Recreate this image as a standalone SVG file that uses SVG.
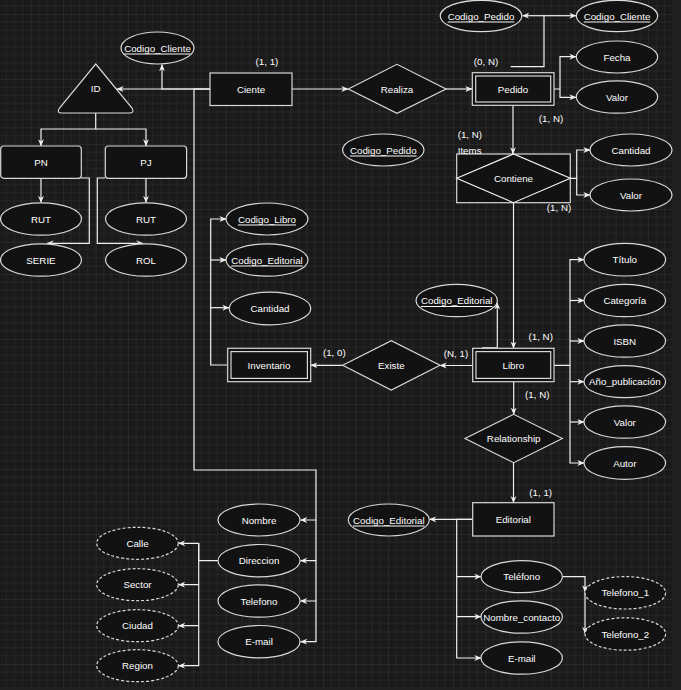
<svg xmlns="http://www.w3.org/2000/svg" width="681" height="690" viewBox="0 0 681 690">
<defs>
<pattern id="grid" patternUnits="userSpaceOnUse" x="30.6" y="14" width="32.5" height="32.5">
<path d="M8.125 0V32.5M16.25 0V32.5M24.375 0V32.5M0 8.125H32.5M0 16.25H32.5M0 24.375H32.5" stroke="#262626" stroke-width="1" fill="none"/>
<path d="M0 0V32.5M0 0H32.5" stroke="#363636" stroke-width="1" fill="none"/>
</pattern>
<marker id="a" viewBox="0 0 10 10" refX="9.5" refY="5" markerWidth="7" markerHeight="7" markerUnits="userSpaceOnUse" orient="auto-start-reverse">
<path d="M0,0.8 L10,5 L0,9.2 L3,5 z" fill="#f0f0f0"/>
</marker>
<style>
.e{fill:none;stroke:#f0f0f0;stroke-width:1.2;marker-end:url(#a)}
.n{fill:none;stroke:#f0f0f0;stroke-width:1.2}
.s{fill:#121212;stroke:#d8d8d8;stroke-width:1.2}
.d{fill:#121212;stroke:#d8d8d8;stroke-width:1.2;stroke-dasharray:3 2}
text{font-family:"Liberation Sans",Arial,sans-serif;font-size:9.75px;fill:#ffffff;text-anchor:middle;dominant-baseline:central}
.u{text-decoration:underline}
.l{text-anchor:start}
</style>
</defs>
<rect width="681" height="690" fill="#1a1a1a"/>
<rect width="672" height="687" fill="url(#grid)"/>
<rect x="672" y="0" width="9" height="690" fill="#202020"/>
<rect x="0" y="687" width="681" height="3" fill="#202020"/>

<g id="connectors">
<path class="e" d="M210 89H117"/>
<path class="e" d="M210 89H162V64.5"/>
<path class="e" d="M210 89H194V470H316V520H300.5"/>
<path class="e" d="M316 520V560.7H300.5"/>
<path class="e" d="M316 560.7V601H300.5"/>
<path class="e" d="M316 601V641.7H300.5"/>
<path class="e" d="M95.7 113V129H41V146"/>
<path class="e" d="M95.7 129H146V146"/>
<path class="e" d="M41 178V202.5"/>
<path class="e" d="M146 178V202.5"/>
<path class="e" d="M81 178H89.3V243.3H47"/>
<path class="e" d="M105 178H97.3V243.3H143"/>
<path class="e" d="M292 89H348"/>
<path class="e" d="M446 89H472"/>
<path class="n" d="M510.7 66.7H544V15.7"/>
<path class="e" d="M544 15.7H522.5"/>
<path class="e" d="M544 15.7H576"/>
<path class="e" d="M554 89H560V56.7H576"/>
<path class="e" d="M560 89V97.3H576"/>
<path class="e" d="M513 105.3V154"/>
<path class="e" d="M570.3 178.3H576.7V150H590"/>
<path class="e" d="M576.7 178.3V195H590"/>
<path class="e" d="M513.5 202.7V348.3"/>
<path class="e" d="M482 347.8H497.3V302.8"/>
<path class="e" d="M472.7 365.5H440"/>
<path class="e" d="M342.7 365.3H310.7"/>
<path class="e" d="M227.7 365H210.7V219H226"/>
<path class="e" d="M210.7 260H226"/>
<path class="e" d="M210.7 307.7H229"/>
<path class="e" d="M554 365.3H570V259.7H584"/>
<path class="e" d="M570 300.5H584"/>
<path class="e" d="M570 341H584"/>
<path class="e" d="M570 381.7H584"/>
<path class="e" d="M570 422H584"/>
<path class="e" d="M570 365.3V463H584"/>
<path class="e" d="M513.7 381.7V414.3"/>
<path class="e" d="M513.5 462.7V502.7"/>
<path class="e" d="M472.7 519.3H429.5"/>
<path class="e" d="M472.7 519.3H456.7V576.7H481"/>
<path class="e" d="M456.7 576.7V616.7H481"/>
<path class="e" d="M456.7 616.7V658H481"/>
<path class="e" d="M562.3 576.7H585V592"/>
<path class="e" d="M585 592V633.5"/>
<path class="e" d="M218 560.7H198.7V543.3H178.5"/>
<path class="e" d="M198.7 543.3V584.7H178.5"/>
<path class="e" d="M198.7 584.7V625.7H178.5"/>
<path class="e" d="M198.7 625.7V665.7H178.5"/>
</g>

<g id="codigo_cliente_1"><ellipse class="s" cx="157.5" cy="48" rx="36.5" ry="16"/><text class="u" x="157.5" y="48">Codigo_Cliente</text></g>
<g id="id"><path class="s" d="M95.7 64 L132 108 Q135 113 129 113 L62 113 Q56 113 59.5 108 Z" stroke-width="1.6"/><text x="95.7" y="88.5">ID</text></g>
<g id="ciente"><rect class="s" x="210" y="73" width="82" height="32.5"/><text x="251" y="89.3">Ciente</text></g>
<g id="pn"><rect class="s" x="0.7" y="146" width="80.6" height="32.3" rx="3"/><text x="41" y="162">PN</text></g>
<g id="pj"><rect class="s" x="105.3" y="146" width="81.3" height="32.3" rx="3"/><text x="146" y="162">PJ</text></g>
<g id="rut_pn"><ellipse class="s" cx="41" cy="219" rx="40.5" ry="16.2"/><text x="41" y="219">RUT</text></g>
<g id="rut_pj"><ellipse class="s" cx="146" cy="219" rx="40.5" ry="16.2"/><text x="146" y="219">RUT</text></g>
<g id="serie"><ellipse class="s" cx="41" cy="260" rx="40.5" ry="16.2"/><text x="41" y="260">SERIE</text></g>
<g id="rol"><ellipse class="s" cx="146" cy="260" rx="40.5" ry="16.2"/><text x="146" y="260">ROL</text></g>

<g id="realiza"><path class="s" d="M348.3 89 L397 64.3 L446 89 L397 113.3 Z"/><text x="397" y="89">Realiza</text></g>
<g id="pedido"><rect class="s" x="472.3" y="72.7" width="81.7" height="32.6"/><rect class="s" x="475.7" y="76" width="75" height="26"/><text x="513" y="89">Pedido</text></g>
<g id="codigo_pedido_1"><ellipse class="s" cx="481" cy="16" rx="40.8" ry="15.7"/><text class="u" x="481" y="16">Codigo_Pedido</text></g>
<g id="codigo_cliente_2"><ellipse class="s" cx="617" cy="16" rx="40.7" ry="15.7"/><text class="u" x="617" y="16">Codigo_Cliente</text></g>
<g id="fecha"><ellipse class="s" cx="617" cy="57" rx="40.7" ry="16"/><text x="617" y="57">Fecha</text></g>
<g id="valor_pedido"><ellipse class="s" cx="617" cy="97" rx="40.7" ry="16.2"/><text x="617" y="97">Valor</text></g>
<g id="codigo_pedido_2"><ellipse class="s" cx="383.3" cy="150" rx="40.7" ry="16"/><text class="u" x="383.3" y="150">Codigo_Pedido</text></g>
<g id="contiene"><rect class="s" x="456.7" y="154" width="113.6" height="48.7"/><path class="n" d="M456.7 178.3 L513.5 154 L570.3 178.3 L513.5 202.7 Z" stroke="#d8d8d8"/><text x="513.5" y="178.3">Contiene</text></g>
<g id="cantidad_contiene"><ellipse class="s" cx="631" cy="150" rx="41" ry="16"/><text x="631" y="150">Cantidad</text></g>
<g id="valor_contiene"><ellipse class="s" cx="631" cy="195" rx="41" ry="16"/><text x="631" y="195">Valor</text></g>

<g id="codigo_libro"><ellipse class="s" cx="267" cy="219" rx="41" ry="16"/><text class="u" x="267" y="219">Codigo_Libro</text></g>
<g id="codigo_editorial_inv"><ellipse class="s" cx="267" cy="260" rx="41" ry="16.2"/><text class="u" x="267" y="260">Codigo_Editorial</text></g>
<g id="cantidad_inv"><ellipse class="s" cx="270" cy="308.5" rx="40.8" ry="16.3"/><text x="270" y="308.5">Cantidad</text></g>
<g id="inventario"><rect class="s" x="227.7" y="348.3" width="83" height="33.4"/><rect class="s" x="231" y="351.6" width="76.4" height="26.8"/><text x="269" y="365">Inventario</text></g>
<g id="existe"><path class="s" d="M342.7 365.3 L391.3 340.7 L440 365.3 L391.3 390 Z"/><text x="391.3" y="365.3">Existe</text></g>
<g id="codigo_editorial_libro"><ellipse class="s" cx="456.7" cy="300.5" rx="40.7" ry="16.2"/><text class="u" x="456.7" y="300.5">Codigo_Editorial</text></g>
<g id="libro"><rect class="s" x="472.7" y="348.3" width="81.3" height="33.4"/><rect class="s" x="476" y="351.6" width="74.7" height="26.8"/><text x="513.3" y="365.3">Libro</text></g>
<g id="titulo"><ellipse class="s" cx="624.8" cy="259.7" rx="40.8" ry="16.3"/><text x="624.8" y="259.7">Título</text></g>
<g id="categoria"><ellipse class="s" cx="624.8" cy="300.5" rx="40.8" ry="16.2"/><text x="624.8" y="300.5">Categoría</text></g>
<g id="isbn"><ellipse class="s" cx="624.8" cy="341" rx="40.8" ry="16.2"/><text x="624.8" y="341">ISBN</text></g>
<g id="anio_publicacion"><ellipse class="s" cx="624.8" cy="381.7" rx="40.8" ry="16"/><text x="624.8" y="381.7">Año_publicación</text></g>
<g id="valor_libro"><ellipse class="s" cx="624.8" cy="422" rx="40.8" ry="16.2"/><text x="624.8" y="422">Valor</text></g>
<g id="autor"><ellipse class="s" cx="624.8" cy="463" rx="40.8" ry="16.3"/><text x="624.8" y="463">Autor</text></g>
<g id="relationship"><path class="s" d="M465 438.5 L513.7 414.3 L562.3 438.5 L513.7 462.7 Z"/><text x="513.7" y="438.5">Relationship</text></g>

<g id="editorial"><rect class="s" x="472.7" y="502.7" width="81.3" height="33.3"/><text x="513.3" y="519.3">Editorial</text></g>
<g id="codigo_editorial_ed"><ellipse class="s" cx="388.8" cy="520" rx="40.5" ry="16"/><text class="u" x="388.8" y="520">Codigo_Editorial</text></g>
<g id="telefono_ed"><ellipse class="s" cx="521.7" cy="576.7" rx="40.7" ry="16"/><text x="521.7" y="576.7">Teléfono</text></g>
<g id="nombre_contacto"><ellipse class="s" cx="521.7" cy="617" rx="40.7" ry="16.2"/><text x="521.7" y="617">Nombre_contacto</text></g>
<g id="email_ed"><ellipse class="s" cx="521.7" cy="658" rx="40.7" ry="16.2"/><text x="521.7" y="658">E-mail</text></g>
<g id="telefono_1"><ellipse class="d" cx="625.3" cy="592.8" rx="40.3" ry="16.2"/><text x="625.3" y="592.8">Telefono_1</text></g>
<g id="telefono_2"><ellipse class="d" cx="625.3" cy="634" rx="40.3" ry="16.2"/><text x="625.3" y="634">Telefono_2</text></g>

<g id="nombre"><ellipse class="s" cx="259" cy="520" rx="41" ry="16"/><text x="259" y="520">Nombre</text></g>
<g id="direccion"><ellipse class="s" cx="259" cy="560.7" rx="41" ry="16.2"/><text x="259" y="560.7">Direccion</text></g>
<g id="telefono"><ellipse class="s" cx="259" cy="601" rx="41" ry="16.2"/><text x="259" y="601">Telefono</text></g>
<g id="email"><ellipse class="s" cx="259" cy="641.7" rx="41" ry="16.2"/><text x="259" y="641.7">E-mail</text></g>
<g id="calle"><ellipse class="d" cx="137.5" cy="543.3" rx="40.8" ry="16"/><text x="137.5" y="543.3">Calle</text></g>
<g id="sector"><ellipse class="d" cx="137.5" cy="584.7" rx="40.8" ry="16"/><text x="137.5" y="584.7">Sector</text></g>
<g id="ciudad"><ellipse class="d" cx="137.5" cy="625.7" rx="40.8" ry="16"/><text x="137.5" y="625.7">Ciudad</text></g>
<g id="region"><ellipse class="d" cx="137.5" cy="665.7" rx="40.8" ry="16"/><text x="137.5" y="665.7">Region</text></g>

<g id="labels">
<text x="267" y="61">(1, 1)</text>
<text x="486" y="61">(0, N)</text>
<text x="551" y="118">(1, N)</text>
<text class="l" x="457.7" y="134">(1, N)</text>
<text class="l" x="457.7" y="150">Items</text>
<text x="559" y="207">(1, N)</text>
<text x="540.7" y="336.7">(1, N)</text>
<text x="537.3" y="394">(1, N)</text>
<text x="456" y="353.3">(N, 1)</text>
<text x="334.3" y="352.7">(1, 0)</text>
<text x="540.7" y="492">(1, 1)</text>
</g>
</svg>
